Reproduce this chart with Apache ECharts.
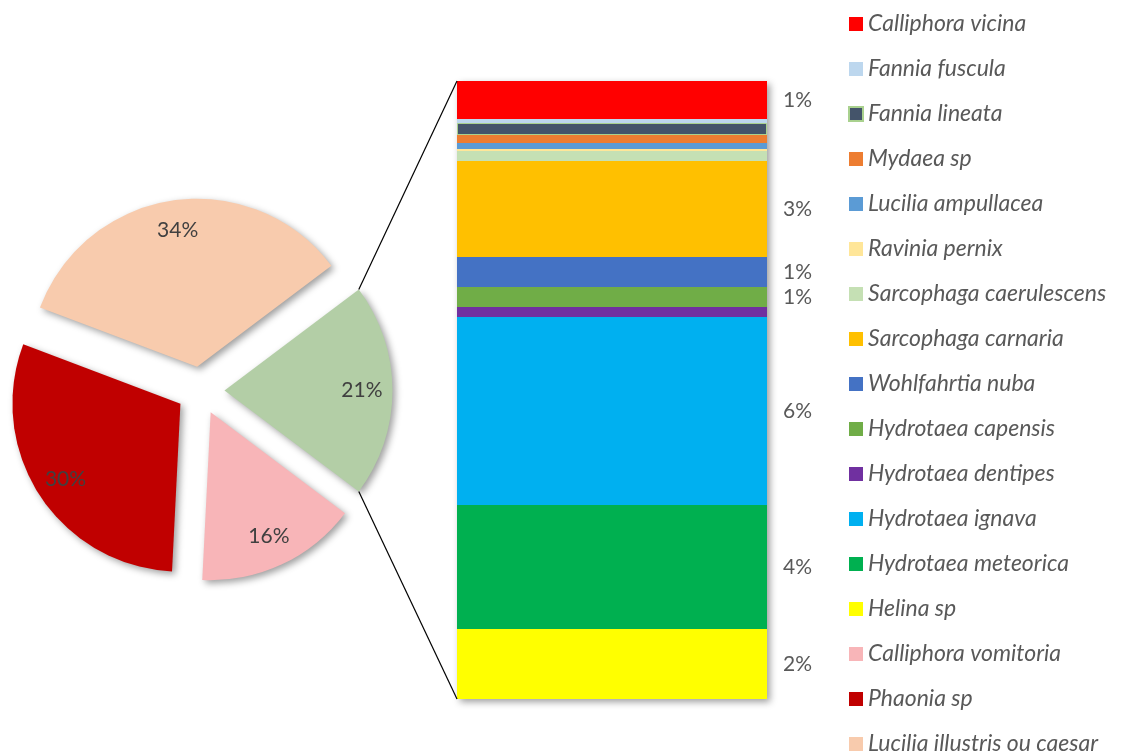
<!DOCTYPE html>
<html>
<head>
<meta charset="utf-8">
<script src="https://cdn.jsdelivr.net/npm/echarts@6/dist/echarts.min.js"></script>
<style>
  html, body { margin: 0; padding: 0; background: #ffffff; }
  #chart { width: 1122px; height: 755px; }
</style>
</head>
<body>
<div id="chart"></div>
<script>
// Species detailed in the stacked bar (top to bottom), counts of specimens
const barSpecies = ['Calliphora vicina', 'Fannia fuscula', 'Fannia lineata', 'Mydaea sp',
  'Lucilia ampullacea', 'Ravinia pernix', 'Sarcophaga caerulescens', 'Sarcophaga carnaria',
  'Wohlfahrtia nuba', 'Hydrotaea capensis', 'Hydrotaea dentipes', 'Hydrotaea ignava',
  'Hydrotaea meteorica', 'Helina sp'];
const barCounts = [19, 2, 6, 4, 3, 1, 5, 48, 15, 10, 5, 94, 62, 35];
const barColors = ['#FF0000', '#BDD7EE', '#44546A', '#ED7D31', '#5B9BD5', '#FFE699', '#C5E0B4',
  '#FFC000', '#4472C4', '#70AD47', '#7030A0', '#00B0F0', '#00B050', '#FFFF00'];

// Species shown directly in the pie (clockwise after the grouped slice)
const pieSpecies = ['Calliphora vomitoria', 'Phaonia sp', 'Lucilia illustris ou caesar'];
const pieCounts = [234, 451, 512];
const pieColors = ['#F8B5B8', '#C00000', '#F8CBAD'];
const otherName = 'Autres';
const otherColor = '#B3CEA6';

// Layout settings
const PIE_CENTER = [200.5, 390.5];
const PIE_RADIUS = 168;
const EXPLODE = 24;
const GRID = { left: 457, top: 81, width: 310, height: 618 };
const FONT = 'Lato, "Liberation Sans", sans-serif';

const otherTotal = barCounts.reduce((a, b) => a + b, 0);
const grandTotal = otherTotal + pieCounts.reduce((a, b) => a + b, 0);
const pct = v => Math.round(v / grandTotal * 100);
const halfOtherAngle = otherTotal / grandTotal * 180;

const pieData = [{ name: otherName, value: otherTotal, color: otherColor }]
  .concat(pieSpecies.map((n, i) => ({ name: n, value: pieCounts[i], color: pieColors[i] })));

const shadow = { shadowBlur: 7, shadowOffsetX: 3, shadowOffsetY: 3, shadowColor: 'rgba(0,0,0,0.38)' };

const chart = echarts.init(document.getElementById('chart'), null, { renderer: 'canvas' });

// Stacked bar: first series drawn at the bottom
const stackSeries = barSpecies.map((name, i) => i).reverse().map(i => ({
  name: barSpecies[i],
  type: 'bar',
  stack: 'detail',
  xAxisIndex: 0,
  yAxisIndex: 0,
  barWidth: '100%',
  z: 3,
  data: [barCounts[i]],
  itemStyle: barSpecies[i] === 'Fannia lineata'
    ? { color: barColors[i], borderColor: '#A9D18E', borderWidth: 1 }
    : { color: barColors[i] },
  label: {
    show: pct(barCounts[i]) >= 1,
    position: 'right',
    distance: 16,
    color: '#595959',
    fontFamily: FONT,
    fontSize: 21,
    formatter: p => pct(p.value) + '%'
  },
  emphasis: { disabled: true }
}));

const option = {
  animation: false,
  backgroundColor: '#ffffff',
  grid: { left: GRID.left, top: GRID.top, width: GRID.width, height: GRID.height },
  xAxis: [
    { type: 'category', data: [''], show: false },
    { type: 'category', data: [''], show: false }
  ],
  yAxis: [{ type: 'value', min: 0, max: otherTotal, show: false }],
  legend: {
    orient: 'vertical',
    left: 848,
    top: 12,
    height: 760,
    padding: 0,
    icon: 'rect',
    itemWidth: 14,
    itemHeight: 14,
    itemGap: 21,
    selectedMode: false,
    data: barSpecies.concat(pieSpecies),
    textStyle: { color: '#595959', fontFamily: FONT, fontSize: 23, fontStyle: 'italic', lineHeight: 24 }
  },
  series: [
    // backing block for the bar's drop shadow
    {
      name: 'ombre',
      type: 'bar',
      xAxisIndex: 1,
      yAxisIndex: 0,
      barWidth: '100%',
      z: 1,
      silent: true,
      data: [otherTotal],
      itemStyle: Object.assign({ color: '#ffffff' }, shadow),
      label: { show: false }
    }
  ].concat(stackSeries, [
    {
      name: 'camembert',
      type: 'pie',
      center: PIE_CENTER,
      radius: PIE_RADIUS,
      startAngle: halfOtherAngle,
      clockwise: true,
      selectedMode: 'multiple',
      selectedOffset: EXPLODE,
      avoidLabelOverlap: false,
      label: { show: false },
      labelLine: { show: false },
      emphasis: { disabled: true },
      select: { itemStyle: { borderWidth: 0 } },
      data: pieData.map(d => ({
        name: d.name, value: d.value, selected: true,
        itemStyle: Object.assign({ color: d.color }, shadow),
        select: { itemStyle: Object.assign({ color: d.color }, shadow) }
      }))
    },
    {
      // percentage labels placed at 80% of the radius
      name: 'etiquettes',
      type: 'pie',
      center: PIE_CENTER,
      radius: [PIE_RADIUS * 0.6, PIE_RADIUS],
      startAngle: halfOtherAngle,
      clockwise: true,
      selectedMode: 'multiple',
      selectedOffset: EXPLODE,
      silent: true,
      avoidLabelOverlap: false,
      z: 5,
      label: {
        show: true,
        position: 'inside',
        color: '#404040',
        fontFamily: FONT,
        fontSize: 21,
        formatter: p => pct(p.value) + '%'
      },
      labelLine: { show: false },
      emphasis: { disabled: true },
      data: pieData.map(d => ({
        name: d.name, value: d.value, selected: true,
        itemStyle: { color: 'rgba(0,0,0,0)' },
        select: { itemStyle: { color: 'rgba(0,0,0,0)', borderWidth: 0 } }
      }))
    }
  ])
};

chart.setOption(option);

// Connector lines from the grouped slice to the ends of the bar
const a = halfOtherAngle * Math.PI / 180;
const cornerX = PIE_CENTER[0] + EXPLODE + PIE_RADIUS * Math.cos(a);
const topY = PIE_CENTER[1] - PIE_RADIUS * Math.sin(a);
const botY = PIE_CENTER[1] + PIE_RADIUS * Math.sin(a);
const barTop = chart.convertToPixel({ yAxisIndex: 0 }, otherTotal);
const barBottom = chart.convertToPixel({ yAxisIndex: 0 }, 0);
chart.setOption({
  graphic: [
    { type: 'line', z: 10, shape: { x1: cornerX, y1: topY, x2: GRID.left, y2: barTop }, style: { stroke: '#000000', lineWidth: 1.2 } },
    { type: 'line', z: 10, shape: { x1: cornerX, y1: botY, x2: GRID.left, y2: barBottom }, style: { stroke: '#000000', lineWidth: 1.2 } }
  ]
});
</script>
</body>
</html>
